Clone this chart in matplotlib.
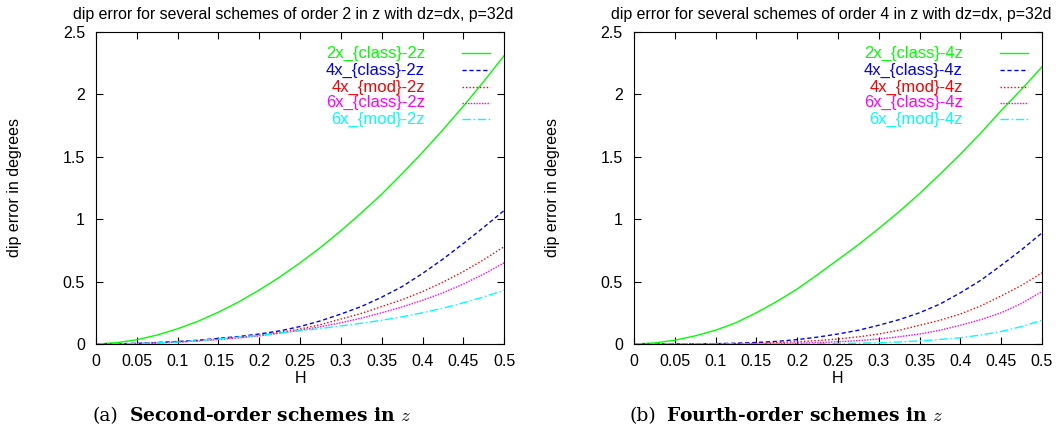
import numpy as np
import matplotlib.pyplot as plt

plt.rcParams['font.family'] = ['Liberation Sans', 'DejaVu Sans']
plt.rcParams['mathtext.fontset'] = 'cm'

H = [0, 0.025, 0.05, 0.075, 0.1, 0.125, 0.15, 0.175, 0.2, 0.225, 0.25,
     0.275, 0.3, 0.325, 0.35, 0.375, 0.4, 0.425, 0.45, 0.475, 0.5]

# order 2 in z
o2_2x_class = [0, .01, .034, .072, .122, .182, .255, .338, .432, .536, .65,
               .773, .907, 1.05, 1.20, 1.364, 1.535, 1.716, 1.905, 2.103, 2.31]
o2_4x_class = [0, .002, .005, .012, .02, .03, .045, .06, .08, .105, .14,
               .185, .24, .30, .375, .46, .565, .68, .805, .935, 1.07]
o2_4x_mod = [0, .001, .004, .009, .015, .026, .04, .053, .07, .093, .12,
             .155, .2, .245, .3, .355, .42, .495, .58, .675, .78]
o2_6x_class = [0, .001, .004, .009, .015, .024, .035, .049, .065, .086, .11,
               .138, .17, .207, .25, .297, .35, .41, .48, .56, .65]
o2_6x_mod = [0, .001, .004, .009, .015, .027, .04, .055, .07, .087, .105,
             .124, .145, .166, .19, .218, .25, .287, .33, .377, .43]

# order 4 in z
o4_2x_class = [0, .008, .03, .065, .11, .17, .25, .34, .44, .555, .675,
               .795, .925, 1.06, 1.205, 1.36, 1.52, 1.69, 1.87, 2.04, 2.22]
o4_4x_class = [0, 0, 0, .001, .003, .006, .012, .021, .035, .055, .08,
               .11, .15, .195, .25, .32, .41, .51, .63, .755, .89]
o4_4x_mod = [0, 0, 0, 0, .001, .003, .006, .011, .018, .027, .04,
             .057, .08, .11, .15, .19, .24, .305, .385, .47, .57]
o4_6x_class = [0, 0, 0, 0, 0, .001, .002, .004, .006, .011, .018,
               .027, .04, .058, .08, .11, .15, .195, .25, .325, .42]
o4_6x_mod = [0, 0, 0, 0, 0, 0, 0, 0, .001, .002, .004,
             .006, .01, .016, .025, .036, .05, .072, .10, .14, .19]

colors = ['#00ff00', '#0000ff', '#ff0000', '#ff00ff', '#00ffff']
styles = ['-', (0, (3, 2)), (0, (1, 1.5)), (0, (1, 1)), (0, (6, 2, 1, 2))]
names = ['2x_{class}', '4x_{class}', '4x_{mod}', '6x_{class}', '6x_{mod}']
xtick_labels = ['0', '0.05', '0.1', '0.15', '0.2', '0.25', '0.3',
                '0.35', '0.4', '0.45', '0.5']

fig = plt.figure(figsize=(10.6, 4.28), dpi=100)
ax1 = fig.add_axes([0.0906, 0.1963, 0.385, 0.7290])
ax2 = fig.add_axes([0.598, 0.1963, 0.385, 0.7290])

panels = [
    (ax1, 2, [o2_2x_class, o2_4x_class, o2_4x_mod, o2_6x_class, o2_6x_mod]),
    (ax2, 4, [o4_2x_class, o4_4x_class, o4_4x_mod, o4_6x_class, o4_6x_mod]),
]
leg_y = [0.932, 0.878, 0.823, 0.773, 0.720]

for ax, order, series in panels:
    for i, (y, c, ls) in enumerate(zip(series, colors, styles)):
        ax.plot(H, y, color=c, linestyle=ls, lw=1)
        lbl = names[i] + '-%dz' % order
        ax.text(0.806, leg_y[i], lbl, color=c, ha='right', va='center',
                transform=ax.transAxes, fontsize=12)
        ax.plot([0.897, 0.966], [leg_y[i], leg_y[i]], color=c, linestyle=ls,
                lw=1, transform=ax.transAxes)
    ax.set_xlim(0, 0.5)
    ax.set_ylim(0, 2.5)
    ax.set_xticks(np.arange(0, 0.51, 0.05))
    ax.set_xticklabels(xtick_labels)
    ax.set_yticks([0, 0.5, 1, 1.5, 2, 2.5])
    ax.set_yticklabels(['0', '0.5', '1', '1.5', '2', '2.5'])
    ax.tick_params(direction='in', top=True, right=True, labelsize=11.5,
                   length=5)
    ax.tick_params(axis='x', pad=7)
    ax.tick_params(axis='y', pad=8)
    ax.set_xlabel('H', fontsize=11.5)
    ax.xaxis.set_label_coords(0.5, -0.087)
    ax.set_ylabel('dip error in degrees', fontsize=11.5)
    ax.yaxis.set_label_coords(-0.181, 0.5)
    ax.text(0.5 - 7 / 408, 1 + 17 / 311,
            'dip error for several schemes of order %d in z with dz=dx, p=32d' % order,
            ha='center', va='center', fontsize=11.4, transform=ax.transAxes)

fig.text(0.0868, 0.0164, '(a)', family='DejaVu Serif', fontsize=13.5)
fig.text(0.1217, 0.0164, r'Second-order schemes in $z$', family='DejaVu Serif',
         fontweight='bold', fontsize=13.5)
fig.text(0.5934, 0.0164, '(b)', family='DejaVu Serif', fontsize=13.5)
fig.text(0.6283, 0.0164, r'Fourth-order schemes in $z$', family='DejaVu Serif',
         fontweight='bold', fontsize=13.5)

fig.savefig('out.png', dpi=100)
